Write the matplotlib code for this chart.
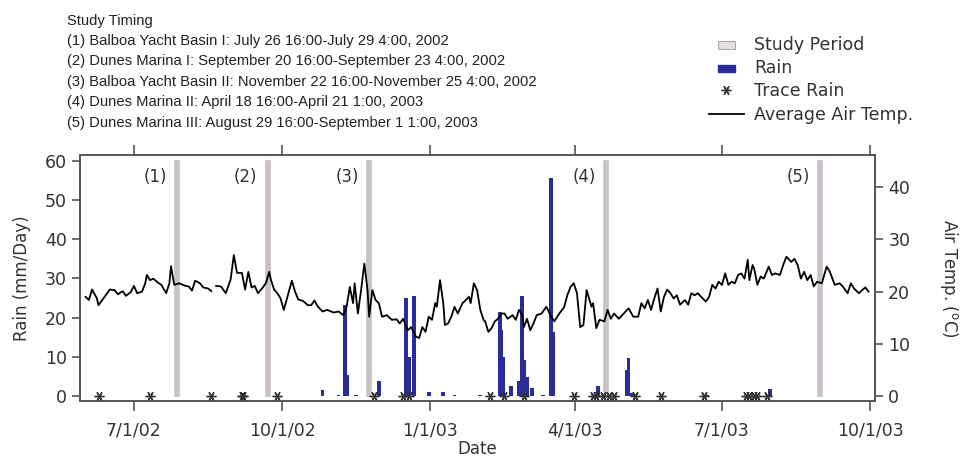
import numpy as np
import pandas as pd
import matplotlib.pyplot as plt
import matplotlib.dates as mdates
import matplotlib.patches as mpatches
from matplotlib.lines import Line2D
from matplotlib.legend_handler import HandlerPatch

# study periods
study_start = ['2002-07-26 16:00', '2002-09-20 16:00', '2002-11-22 16:00',
               '2003-04-18 16:00', '2003-08-29 16:00']
study_end = ['2002-07-29 04:00', '2002-09-23 04:00', '2002-11-25 04:00',
             '2003-04-21 01:00', '2003-09-01 01:00']
study_labels = ['(1)', '(2)', '(3)', '(4)', '(5)']

timing_lines = [
    'Study Timing',
    '(1) Balboa Yacht Basin I: July 26 16:00-July 29 4:00, 2002',
    '(2) Dunes Marina I: September 20 16:00-September 23 4:00, 2002',
    '(3) Balboa Yacht Basin II: November 22 16:00-November 25 4:00, 2002',
    '(4) Dunes Marina II: April 18 16:00-April 21 1:00, 2003',
    '(5) Dunes Marina III: August 29 16:00-September 1 1:00, 2003',
]

# daily rain (mm/day)
rain_dates = ['2002-10-26', '2002-11-05', '2002-11-09', '2002-11-10', '2002-11-16',
              '2002-11-30', '2002-12-17', '2002-12-19', '2002-12-22', '2002-12-31',
              '2003-01-09', '2003-01-16', '2003-02-01', '2003-02-13', '2003-02-14',
              '2003-02-15', '2003-02-20', '2003-02-25', '2003-02-27', '2003-02-28',
              '2003-03-02', '2003-03-05', '2003-03-12', '2003-03-17', '2003-03-18',
              '2003-04-15', '2003-05-03', '2003-05-04', '2003-05-06', '2003-06-22',
              '2003-07-31']
rain_mm = [1.4, 0.3, 23.2, 5.4, 0.3,
           3.7, 24.9, 10.0, 25.5, 1.0,
           1.0, 0.3, 0.3, 21.5, 16.8,
           10.0, 2.6, 3.7, 25.6, 9.2,
           4.9, 2.0, 0.3, 55.6, 16.4,
           2.4, 6.6, 9.6, 0.8, 0.3,
           1.7]

# trace rain days
trace_dates = ['2002-06-09', '2002-07-11', '2002-08-18', '2002-09-06', '2002-09-07',
               '2002-09-28', '2002-11-27', '2002-12-15', '2002-12-19', '2003-02-07',
               '2003-02-16', '2003-02-28', '2003-03-31', '2003-04-12', '2003-04-14',
               '2003-04-18', '2003-04-22', '2003-04-25', '2003-05-08', '2003-05-24',
               '2003-06-20', '2003-07-16', '2003-07-18', '2003-07-21', '2003-07-23',
               '2003-07-29']

# average air temperature, days after 1 Jul 2002
temp_day = [-30, -28, -26, -23, -22, -19, -15, -12, -10, -7, -5, -2, 0, 2, 5, 7, 8, 10,
            12, 15, 17, 20, 22, 23, 25, 28, 32, 34, 36, 38, 41, 43, 46, 48, 49,
            51, 54, 57, 60, 62, 64, 67, 69, 71, 73, 75, 77, 80, 82, 84, 85, 87, 89,
            91, 93, 95, 98, 100, 102, 105, 108, 110, 112, 114, 117, 120, 124, 127,
            130, 132, 134, 136, 137, 139, 141, 143, 145, 146, 148, 150, 152, 154,
            157, 160, 163, 165, 167, 170, 172, 175, 177, 179, 181, 183, 185, 187,
            188, 190, 192, 193, 195, 197, 199, 201, 204, 208, 209, 211, 213, 215,
            217, 218, 220, 222, 224, 226, 228, 230, 232, 235, 237, 239, 241, 242,
            244, 246, 248, 250, 253, 256, 257, 259, 261, 264, 267, 269, 271, 273,
            275, 277, 279, 281, 284, 285, 287, 289, 292, 294, 296, 298, 301, 304,
            307, 310, 313, 315, 317, 319, 321, 323, 325, 327, 329, 331, 333, 335,
            337, 339, 342, 344, 346, 348, 350, 353, 355, 357, 359, 361, 363, 365,
            367, 369, 371, 373, 375, 377, 379, 381, 382, 384, 385, 387, 389, 391,
            394, 396, 398, 401, 403, 405, 408, 410, 412, 414, 416, 418, 420, 422,
            424, 427, 430, 432, 435, 438, 440, 443, 445, 447, 450, 452, 454, 456]
temp_c = [19.0, 18.4, 20.4, 18.7, 17.4, 18.7, 20.4, 20.3, 19.5, 20.1, 19.2, 19.9, 21.1, 19.7, 20.0, 21.6, 23.2, 22.2,
          22.5, 21.7, 21.3, 19.7, 21.6, 24.9, 21.3, 21.6, 21.1, 21.0, 20.2, 22.1, 21.6, 20.8, 20.6, 20.1, np.nan,
          21.1, 21.0, 19.7, 22.3, 27.0, 23.6, 23.6, 20.4, 23.8, 20.8, 21.1, 19.7, 20.8, 21.7, 23.8, 22.3, 20.4, 19.7,
          18.7, 16.5, 18.7, 22.1, 20.0, 18.5, 18.2, 17.4, 17.4, 18.3, 17.2, 16.2, 16.5, 16.0, 16.2,
          15.5, 17.1, 20.9, 17.8, 21.6, 15.8, 20.3, 25.4, 20.3, 15.2, 20.3, 18.4, 17.8, 15.2,
          15.5, 14.6, 14.7, 13.9, 14.8, 12.6, 13.2, 11.4, 11.1, 13.2, 12.3, 15.2, 14.6, 17.8,
          17.1, 22.2, 17.8, 13.6, 13.9, 15.2, 17.1, 15.8, 17.8, 19.0, 17.8, 21.6, 20.3, 16.5,
          14.6, 14.3, 12.3, 13.0, 14.3, 14.8, 15.8, 15.8, 14.8, 15.5, 14.6, 16.5, 15.5, 13.2,
          14.8, 12.6, 13.9, 15.5, 15.8, 17.1, 16.5, 15.2, 14.3, 15.8, 17.0, 19.3, 20.9, 21.6,
          19.7, 13.2, 13.6, 20.3, 17.1, 17.8, 13.0, 14.6, 14.3, 16.5, 14.8, 15.8, 14.8, 15.8,
          16.8, 15.2, 15.2, 17.8, 16.8, 18.4, 16.5, 18.7, 20.6, 16.2, 19.0, 20.4, 19.7, 18.7,
          19.3, 17.5, 18.4, 17.5, 19.7, 19.3, 19.7, 18.7, 18.1, 19.0, 21.3, 20.6, 21.9, 21.3,
          23.5, 21.3, 21.9, 21.6, 23.2, 23.5, 22.5, 26.1, 22.2, 25.1, 24.4, 21.3, 22.9, 22.5,
          24.8, 23.2, 23.5, 23.2, 25.1, 26.7, 25.7, 26.3, 25.1, 22.5, 23.8, 22.2, 23.2, 21.0,
          21.9, 21.6, 24.8, 23.8, 21.3, 21.6, 21.0, 19.7, 21.6, 20.6, 19.7, 20.3, 20.8, 20.0]

study_color = '#c9c1c3'
rain_color = '#2b2c9c'
frame_color = '#555555'
text_color = '#333333'

plt.rcParams['font.family'] = 'DejaVu Sans'

fig = plt.figure(figsize=(9.66, 4.61), dpi=100)
ax = fig.add_axes([0.0828, 0.1302, 0.8230, 0.5336])
ax2 = ax.twinx()

# study periods as grey columns
s = pd.to_datetime(study_start)
e = pd.to_datetime(study_end)
dur = (e - s).total_seconds() / 86400
ax.bar(s, [60] * len(s), width=dur, align='edge', color=study_color,
       edgecolor=study_color, linewidth=1.2, zorder=1)
for x0, lab in zip(s, study_labels):
    ax.text(x0 - pd.Timedelta(days=5), 56, lab, ha='right', va='center',
            fontsize=12, color=text_color)

# rain bars
ax.bar(pd.to_datetime(rain_dates), rain_mm, width=2.4, color=rain_color, zorder=2)

# trace rain markers
tr = pd.to_datetime(trace_dates)
ax.plot(tr, [0] * len(tr), linestyle='none', marker=(6, 2, 90), markersize=7,
        markeredgecolor='#333333', markeredgewidth=1.0, zorder=3)

# temperature
tdates = pd.Timestamp('2002-07-01') + pd.to_timedelta(temp_day, unit='D')
ax2.plot(tdates, temp_c, color='black', linewidth=1.3)

ax.set_xlim(pd.Timestamp('2002-05-28 12:00'), pd.Timestamp('2003-10-04'))
ax.set_ylim(-1.3, 61.5)
ax2.set_ylim(-0.96, 46.2)

ax.xaxis.set_major_locator(mdates.MonthLocator(bymonth=[1, 4, 7, 10]))
ax.xaxis.set_major_formatter(plt.FuncFormatter(
    lambda v, pos: '{d.month}/{d.day}/{d:%y}'.format(d=mdates.num2date(v))))
ax.set_yticks(range(0, 61, 10))
ax2.set_yticks(range(0, 41, 10))

for a in (ax, ax2):
    for sp in a.spines.values():
        sp.set_color(frame_color)
        sp.set_linewidth(1.2)
ax.tick_params(axis='x', direction='out', top=True, length=7, width=1.2,
               color=frame_color, labelsize=12.5, pad=8, labelcolor=text_color)
ax.tick_params(axis='y', direction='out', length=6, width=1.2,
               color=frame_color, labelsize=12.5, labelcolor=text_color)
ax2.tick_params(axis='y', direction='out', length=6, width=1.2,
                color=frame_color, labelsize=12.5, labelcolor=text_color)

ax.set_xlabel('Date', fontsize=12, color=text_color, labelpad=0)
ax.set_ylabel('Rain (mm/Day)', fontsize=12, color=text_color, labelpad=10)
ax2.set_ylabel('Air Temp. ($^{\\mathrm{o}}$C)', fontsize=12, color=text_color,
               rotation=270, labelpad=36)

# header text block
for i, line in enumerate(timing_lines):
    fig.text(67 / 966, 1 - (20.5 + i * 20.4) / 461, line, ha='left', va='center',
             fontsize=10.6, family='Liberation Sans', color='#222222')


# legend
def small_box(legend, orig_handle, xdescent, ydescent, width, height, fontsize):
    return mpatches.Rectangle((width * 0.25 - xdescent, -ydescent + height * 0.1),
                              width * 0.5, height * 0.6)


handles = [mpatches.Patch(facecolor='#e6e0e2', edgecolor='#b0a8aa', linewidth=0.8),
           mpatches.Patch(facecolor=rain_color, edgecolor=rain_color),
           Line2D([], [], linestyle='none', marker=(6, 2, 90), markersize=7,
                  markeredgecolor='#333333', markeredgewidth=1.0),
           Line2D([], [], color='black', linewidth=1.3)]
labels = ['Study Period', 'Rain', 'Trace Rain', 'Average Air Temp.']
fig.legend(handles, labels, loc='upper left', bbox_to_anchor=(709 / 966, 1 - 36 / 461),
           frameon=False, fontsize=12.5, handlelength=2.0, handletextpad=0.6,
           labelspacing=0.3, borderpad=0, borderaxespad=0,
           handler_map={mpatches.Patch: HandlerPatch(patch_func=small_box)},
           labelcolor=text_color)

fig.savefig('out.png', dpi=100)
